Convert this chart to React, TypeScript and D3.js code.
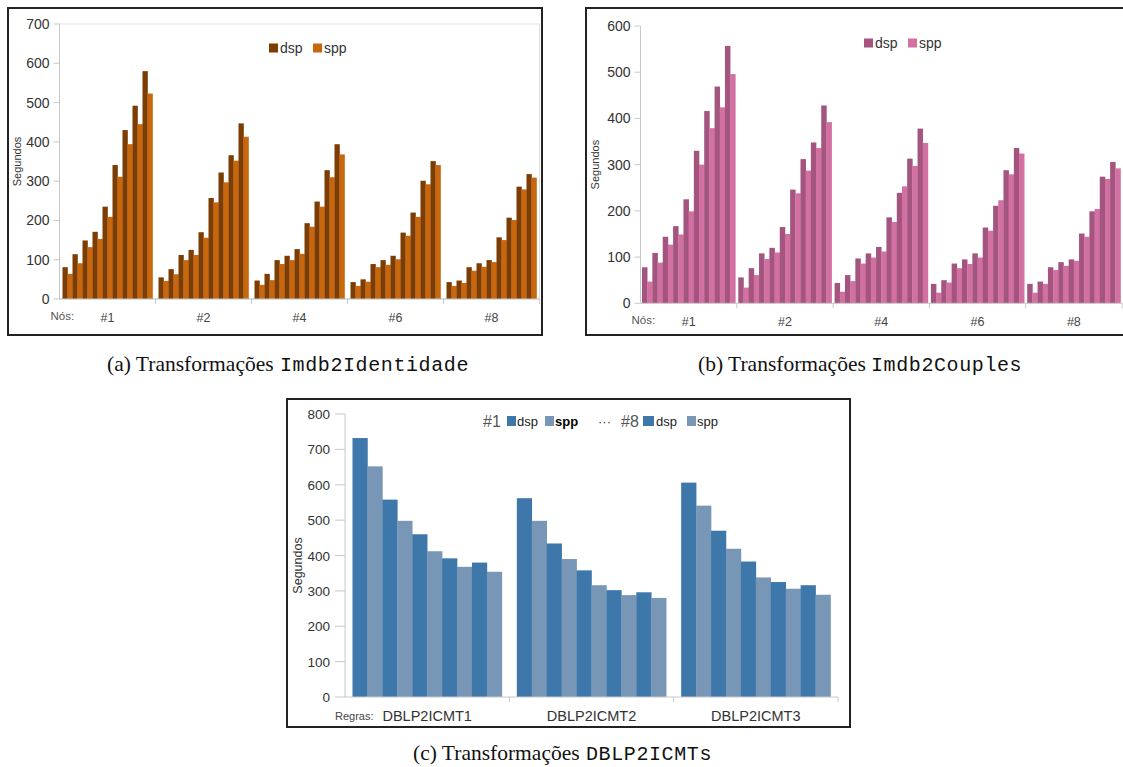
import React from "react";
import * as d3 from "d3";

// node counts (groups in a/b, series in c)
const nodes = ["#1", "#2", "#4", "#6", "#8"];
// nine input models per node count
const sizes = ["m1", "m2", "m3", "m4", "m5", "m6", "m7", "m8", "m9"];
const series = ["dsp", "spp"];

// (a) Imdb2Identidade, seconds
const dspA = [
  [81, 114, 149, 171, 235, 341, 430, 492, 580],
  [55, 76, 112, 125, 170, 257, 322, 366, 447],
  [47, 64, 99, 110, 127, 193, 248, 328, 394],
  [43, 50, 89, 99, 110, 169, 220, 301, 351],
  [43, 47, 81, 91, 99, 157, 207, 286, 318],
];
const sppA = [
  [64, 91, 132, 153, 209, 311, 394, 445, 523],
  [46, 63, 99, 112, 156, 246, 297, 352, 413],
  [36, 48, 89, 99, 115, 184, 235, 310, 368],
  [33, 44, 81, 87, 101, 161, 209, 292, 341],
  [33, 41, 72, 82, 94, 150, 201, 279, 309],
];

// (b) Imdb2Couples, seconds
const dspB = [
  [78, 109, 144, 167, 225, 330, 416, 469, 557],
  [56, 76, 108, 120, 165, 246, 312, 348, 428],
  [44, 61, 97, 108, 122, 186, 239, 313, 378],
  [42, 50, 86, 95, 108, 164, 211, 288, 336],
  [42, 47, 78, 89, 95, 151, 199, 274, 306],
];
const sppB = [
  [47, 88, 127, 149, 199, 300, 379, 424, 496],
  [34, 61, 96, 110, 150, 238, 287, 336, 392],
  [25, 48, 86, 99, 112, 176, 253, 297, 347],
  [23, 45, 76, 85, 99, 157, 223, 279, 324],
  [23, 42, 72, 81, 92, 144, 204, 269, 292],
];

// (c) DBLP2ICMTs, one value per node count
const rules = ["DBLP2ICMT1", "DBLP2ICMT2", "DBLP2ICMT3"];
const dspC = [
  [732, 558, 460, 392, 380],
  [562, 434, 358, 302, 296],
  [606, 470, 383, 325, 316],
];
const sppC = [
  [652, 498, 412, 368, 354],
  [498, 390, 316, 288, 280],
  [541, 419, 338, 306, 289],
];

const SANS = "'Liberation Sans', Arial, sans-serif";
const SERIF = "'Liberation Serif', 'DejaVu Serif', serif";
const MONO = "'Liberation Mono', 'DejaVu Sans Mono', monospace";
const AXIS = "#c8c8c8";

function NodeChart({ dsp, spp, colors, plot, yMax, pad, boxed, legend, ylabX }) {
  const x = d3.scaleBand(nodes, [plot.left, plot.right]);
  const keys = sizes.flatMap((s) => series.map((k) => s + k));
  const xi = d3.scaleBand(keys, [pad, x.bandwidth() - pad]);
  const y = d3.scaleLinear([0, yMax], [plot.bottom, plot.top]);
  const ticks = y.ticks(yMax / 100);
  const vals = [dsp, spp];

  return (
    <g>
      {boxed && (
        <rect x={plot.left} y={plot.top} width={plot.right - plot.left}
          height={plot.bottom - plot.top} fill="none" stroke="#e0e0e0" />
      )}
      {nodes.map((n, gi) =>
        sizes.map((s, si) =>
          series.map((k, ki) => (
            <rect key={n + s + k}
              x={x(n) + xi(s + k)} width={xi.bandwidth() + 0.3}
              y={y(vals[ki][gi][si])} height={y(0) - y(vals[ki][gi][si])}
              fill={colors[ki]} />
          ))
        )
      )}
      <line x1={plot.left} x2={plot.left} y1={plot.top} y2={plot.bottom} stroke={AXIS} />
      <line x1={plot.left} x2={plot.right} y1={plot.bottom} y2={plot.bottom} stroke={AXIS} />
      {ticks.map((t) => (
        <g key={t}>
          <line x1={plot.left - 6} x2={plot.left} y1={y(t)} y2={y(t)} stroke={AXIS} />
          <text x={plot.left - 10} y={y(t) + 5} textAnchor="end" fontSize={14}
            fontFamily={SANS} fill="#333">{t}</text>
        </g>
      ))}
      {nodes.map((n) => (
        <g key={n}>
          <line x1={x(n) + x.bandwidth()} x2={x(n) + x.bandwidth()} y1={plot.bottom}
            y2={plot.bottom + 5} stroke={AXIS} />
          <text x={x(n) + x.bandwidth() / 2} y={plot.bottom + 23} textAnchor="middle"
            fontSize={12.5} fontFamily={SANS} fill="#444">{n}</text>
        </g>
      ))}
      <text x={plot.left - 9} y={plot.bottom + 21} fontSize={11.5} fontFamily={SANS}
        fill="#555">Nós:</text>
      <text transform={`translate(${ylabX},${(plot.top + plot.bottom) / 2}) rotate(-90)`}
        textAnchor="middle" fontSize={11} fontFamily={SANS} fill="#333">Segundos</text>
      {series.map((k, ki) => (
        <g key={k} transform={`translate(${legend.x + ki * 44},${legend.y})`}>
          <rect x={0} y={-4.5} width={9} height={9} fill={colors[ki]} />
          <text x={11} y={5} fontSize={14} fontFamily={SANS} fill="#333">{k}</text>
        </g>
      ))}
    </g>
  );
}

function RuleChart({ colors }) {
  const plot = { left: 345, right: 838, top: 414, bottom: 697 };
  const x = d3.scaleBand(rules, [plot.left, plot.right]);
  const keys = nodes.flatMap((n) => series.map((k) => n + k));
  const xi = d3.scaleBand(keys, [7.5, x.bandwidth() - 7.5]);
  const y = d3.scaleLinear([0, 800], [plot.bottom, plot.top]);
  const vals = [dspC, sppC];

  return (
    <g>
      {rules.map((r, ri) =>
        nodes.map((n, ni) =>
          series.map((k, ki) => (
            <rect key={r + n + k}
              x={x(r) + xi(n + k)} width={xi.bandwidth() + 0.3}
              y={y(vals[ki][ri][ni])} height={y(0) - y(vals[ki][ri][ni])}
              fill={colors[ki]} />
          ))
        )
      )}
      <line x1={plot.left} x2={plot.left} y1={plot.top} y2={plot.bottom} stroke={AXIS} />
      <line x1={plot.left} x2={plot.right} y1={plot.bottom} y2={plot.bottom} stroke={AXIS} />
      {y.ticks(8).map((t) => (
        <g key={t}>
          <line x1={plot.left - 10} x2={plot.left} y1={y(t)} y2={y(t)} stroke={AXIS} />
          <text x={plot.left - 15} y={y(t) + 5} textAnchor="end" fontSize={13.5}
            fontFamily={SANS} fill="#333">{t}</text>
        </g>
      ))}
      {rules.map((r) => (
        <g key={r}>
          <line x1={x(r) + x.bandwidth()} x2={x(r) + x.bandwidth()} y1={plot.bottom}
            y2={plot.bottom + 5} stroke={AXIS} />
          <text x={x(r) + x.bandwidth() / 2} y={plot.bottom + 24} textAnchor="middle"
            fontSize={14.5} fontFamily={SANS} fill="#333">{r}</text>
        </g>
      ))}
      <text x={plot.left - 10} y={plot.bottom + 23} fontSize={11} fontFamily={SANS}
        fill="#444">Regras:</text>
      <text transform={`translate(302,${(plot.top + plot.bottom) / 2 + 10}) rotate(-90)`}
        textAnchor="middle" fontSize={12.5} fontFamily={SANS} fill="#333">Segundos</text>
      <g fontFamily={SANS}>
        <text x={483} y={427} fontSize={16} fill="#555">#1</text>
        <rect x={507} y={416} width={9} height={10} fill={colors[0]} />
        <text x={517} y={426} fontSize={13} fill="#222">dsp</text>
        <rect x={545} y={416} width={9} height={10} fill={colors[1]} />
        <text x={555} y={426} fontSize={13} fill="#000" fontWeight="bold">spp</text>
        <text x={598} y={426} fontSize={13} fill="#333">···</text>
        <text x={621} y={427} fontSize={16} fill="#555">#8</text>
        <rect x={643} y={416} width={11} height={10} fill={colors[0]} />
        <text x={656} y={426} fontSize={13} fill="#222">dsp</text>
        <rect x={687} y={416} width={9} height={10} fill={colors[1]} />
        <text x={697} y={426} fontSize={13} fill="#222">spp</text>
      </g>
    </g>
  );
}

function Caption({ x, y, label, code }) {
  return (
    <g>
      <text x={x} y={y} fontSize={21.5} fontFamily={SERIF} fill="#111">{label}</text>
      <text x={x + 173} y={y} fontSize={20} letterSpacing={0.6} fontFamily={MONO}
        fill="#111">{code}</text>
    </g>
  );
}

export default function App() {
  return (
    <svg width={1123} height={767} style={{ position: "absolute", left: 0, top: 0, background: "#fff" }}>
      <rect x={0} y={0} width={1123} height={767} fill="#fff" />
      <rect x={8} y={8} width={534} height={327} fill="#fff" stroke="#222" strokeWidth={2} />
      <rect x={586} y={8} width={545} height={327} fill="#fff" stroke="#222" strokeWidth={2} />
      <rect x={287} y={399} width={563} height={328} fill="#fff" stroke="#222" strokeWidth={2} />

      <NodeChart dsp={dspA} spp={sppA} colors={["#7c3d05", "#c8660e"]}
        plot={{ left: 59.5, right: 539.5, top: 24, bottom: 299 }} yMax={700} pad={3}
        boxed legend={{ x: 269, y: 48 }} ylabX={21} />
      <NodeChart dsp={dspB} spp={sppB} colors={["#a3557f", "#d370a2"]}
        plot={{ left: 640.5, right: 1122, top: 26, bottom: 303.3 }} yMax={600} pad={1.5}
        legend={{ x: 864, y: 43 }} ylabX={599} />
      <RuleChart colors={["#3e77a9", "#7896b5"]} />

      <Caption x={107} y={371} label="(a) Transformações" code="Imdb2Identidade" />
      <Caption x={698} y={371} label="(b) Transformações" code="Imdb2Couples" />
      <Caption x={413} y={760} label="(c) Transformações" code="DBLP2ICMTs" />
    </svg>
  );
}
